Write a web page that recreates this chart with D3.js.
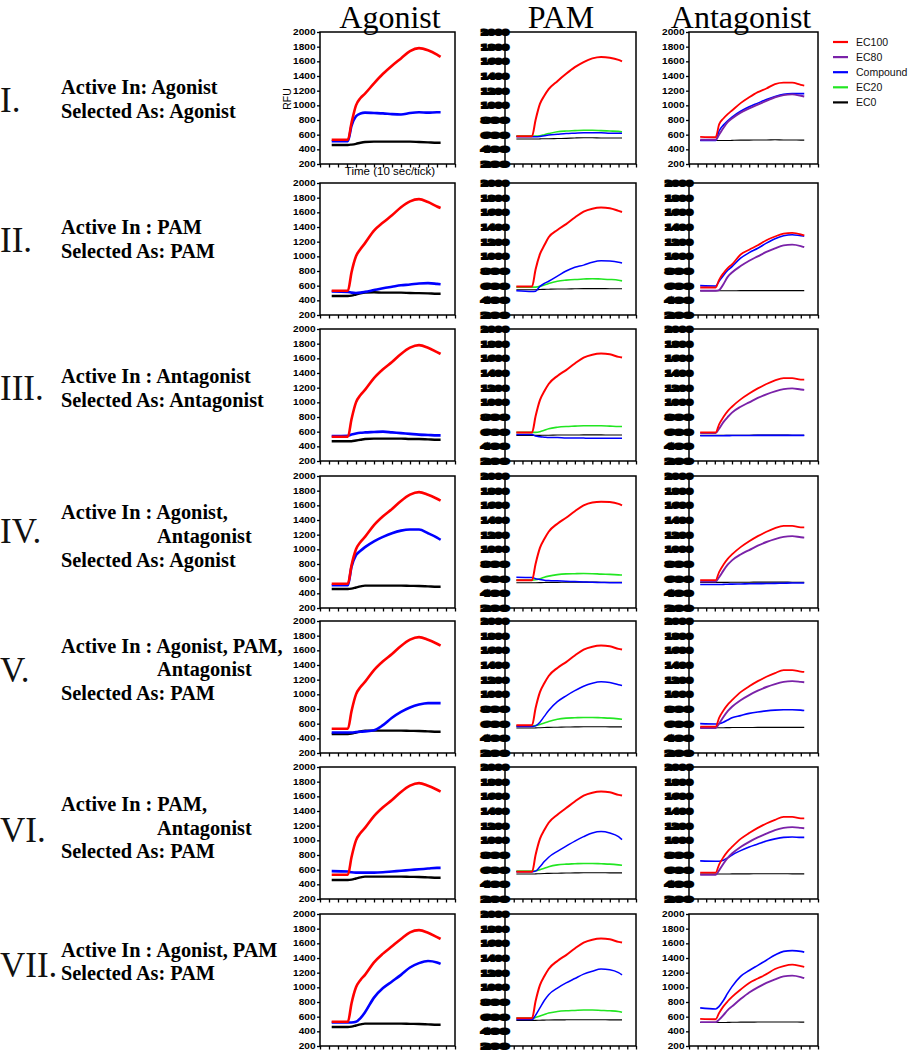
<!DOCTYPE html>
<html><head><meta charset="utf-8">
<script src="https://cdn.jsdelivr.net/npm/d3@7"></script>
<style>body{margin:0;background:#fff}</style>
</head><body><svg id="c" width="909" height="1050"></svg>
<script>
// ---------------- data ----------------
const times = [1.3, 3.1, 3.5, 4, 4.5, 5, 6, 7, 8, 9, 10, 11, 12, 13, 13.4];
const columnTitles = ["Agonist", "PAM", "Antagonist"];
const romanNumerals = ["I.", "II.", "III.", "IV.", "V.", "VI.", "VII."];
const activeInLines = [
  ["Active In: Agonist"],
  ["Active In : PAM"],
  ["Active In : Antagonist"],
  ["Active In : Agonist,", "Antagonist"],
  ["Active In : Agonist, PAM,", "Antagonist"],
  ["Active In : PAM,", "Antagonist"],
  ["Active In : Agonist, PAM"]
];
const selectedAs = ["Selected As: Agonist", "Selected As: PAM", "Selected As: Antagonist",
  "Selected As: Agonist", "Selected As: PAM", "Selected As: PAM", "Selected As: PAM"];
const yTicks = [200, 400, 600, 800, 1000, 1200, 1400, 1600, 1800, 2000];
const xTicks = [0, 1, 2, 3, 4, 5, 6, 7, 8, 9, 10, 11, 12, 13, 14, 15];
const legendLabels = ["EC100", "EC80", "Compound", "EC20", "EC0"];
const yAxisLabel = "RFU";
const xAxisLabel = "Time (10 sec/tick)";

// Agonist mode column
const agonistEC100 = [
  [530,530,760,1000,1100,1160,1300,1430,1540,1640,1740,1780,1750,1690,1660],
  [530,530,780,1000,1100,1180,1350,1460,1560,1670,1750,1780,1740,1680,1660],
  [530,530,770,1000,1100,1170,1330,1450,1550,1660,1745,1780,1745,1685,1660],
  [530,530,780,1000,1100,1170,1330,1450,1550,1660,1745,1780,1745,1690,1665],
  [530,530,770,1000,1100,1170,1330,1450,1550,1660,1745,1780,1745,1690,1665],
  [530,530,770,1000,1100,1170,1330,1450,1550,1660,1745,1780,1745,1690,1665],
  [530,530,780,1000,1100,1170,1340,1460,1560,1660,1750,1780,1745,1685,1660]
];
const agonistCompound = [
  [510,510,720,850,890,900,895,890,880,875,895,905,900,905,905],
  [520,515,505,500,505,515,540,565,585,605,615,630,635,625,620],
  [540,545,560,575,585,590,595,600,590,580,570,560,555,550,550],
  [510,510,760,920,980,1030,1110,1170,1220,1255,1270,1270,1220,1160,1130],
  [480,480,480,485,490,495,510,580,680,760,820,860,880,880,880],
  [580,575,565,560,560,560,560,565,575,585,595,605,615,625,625],
  [520,520,520,530,580,660,860,990,1080,1170,1270,1330,1360,1340,1320]
];
const agonistEC0 = [
  [460,460,465,475,490,500,505,505,505,505,505,500,495,490,490],
  [460,460,465,480,495,505,510,505,505,505,500,498,495,490,490],
  [470,470,470,480,490,500,505,505,505,505,500,500,495,490,490],
  [460,460,465,480,495,505,505,505,505,505,502,500,495,490,490],
  [460,460,465,480,495,505,505,505,505,505,502,500,495,490,490],
  [460,460,465,480,495,505,505,505,505,505,502,500,495,490,490],
  [460,460,465,480,495,505,505,505,505,505,502,500,495,490,490]
];

// PAM mode column
const pamEC100 = [
  [580,580,800,1020,1130,1220,1330,1430,1520,1590,1640,1660,1650,1620,1600],
  [590,590,820,1030,1150,1260,1360,1440,1530,1610,1650,1665,1655,1620,1605],
  [590,590,810,1030,1150,1250,1360,1440,1530,1610,1650,1665,1655,1620,1610],
  [580,580,800,1020,1140,1240,1350,1430,1520,1600,1640,1650,1645,1620,1600],
  [580,580,810,1030,1150,1250,1360,1440,1530,1610,1650,1665,1655,1620,1610],
  [570,570,800,1020,1140,1240,1350,1440,1530,1610,1650,1665,1655,1620,1610],
  [580,580,810,1030,1150,1250,1360,1440,1530,1610,1650,1665,1655,1620,1610]
];
const pamEC20 = [
  [580,580,580,585,600,615,640,650,655,660,660,655,650,645,640],
  [580,580,580,590,610,630,660,675,685,690,695,690,685,675,665],
  [590,590,590,600,620,640,660,670,675,680,680,680,675,670,670],
  [580,580,585,600,620,635,655,665,668,670,668,662,658,652,650],
  [570,570,575,590,610,630,660,675,680,685,685,680,675,665,660],
  [580,580,585,600,620,640,665,675,680,685,685,680,675,665,660],
  [580,580,590,610,630,650,670,680,685,690,690,685,680,670,660]
];
const pamCompound = [
  [570,570,570,575,585,595,605,615,620,625,625,625,620,620,620],
  [530,520,525,590,630,660,730,800,850,880,920,940,935,920,910],
  [560,560,540,530,525,520,520,515,515,512,510,510,510,510,510],
  [620,615,600,590,580,575,570,565,560,555,550,548,545,545,545],
  [560,560,570,620,700,780,900,980,1050,1110,1150,1170,1160,1130,1120],
  [570,570,580,640,710,770,850,920,990,1050,1100,1120,1100,1050,1010],
  [560,560,620,720,820,900,990,1060,1120,1180,1220,1250,1240,1200,1170]
];
const pamEC0 = [
  [540,540,540,542,545,545,548,550,555,558,558,555,555,555,555],
  [545,545,545,548,550,552,555,555,558,560,560,560,558,558,558],
  [550,550,550,550,552,552,555,555,555,556,556,556,555,555,555],
  [545,545,545,546,548,550,550,552,552,553,553,552,552,552,552],
  [540,540,542,545,548,550,552,555,556,558,558,558,556,556,556],
  [540,540,542,545,548,550,552,555,556,558,558,558,556,556,556],
  [550,550,550,552,553,555,556,557,558,558,558,558,556,556,556]
];

// Antagonist mode column
const antEC100 = [
  [570,565,740,820,880,930,1030,1110,1180,1230,1290,1310,1310,1280,1270],
  [575,575,680,770,840,890,1025,1090,1150,1220,1270,1310,1320,1300,1285],
  [590,590,700,800,880,940,1040,1120,1190,1250,1300,1330,1330,1310,1310],
  [580,580,690,790,870,930,1030,1110,1180,1240,1290,1320,1320,1300,1300],
  [560,560,680,780,860,920,1030,1110,1180,1240,1290,1330,1330,1310,1305],
  [560,560,670,770,850,910,1020,1100,1170,1230,1280,1320,1320,1300,1300],
  [570,565,650,740,810,870,970,1060,1120,1180,1250,1290,1310,1290,1280]
];
const antEC80 = [
  [530,530,600,690,770,820,900,960,1010,1060,1110,1140,1150,1130,1120],
  [530,530,540,620,720,780,867,940,1000,1060,1110,1150,1160,1140,1125],
  [580,580,640,730,800,860,940,1000,1060,1110,1150,1180,1190,1175,1170],
  [560,560,620,710,790,850,930,990,1050,1100,1140,1170,1180,1165,1160],
  [540,540,600,690,770,830,920,990,1050,1100,1140,1170,1180,1170,1165],
  [530,530,590,680,760,820,910,980,1040,1090,1140,1170,1180,1170,1165],
  [525,525,560,620,690,740,840,930,1000,1060,1110,1150,1160,1140,1125]
];
const antCompound = [
  [520,520,650,730,790,840,920,980,1030,1080,1120,1150,1160,1160,1160],
  [600,595,660,740,810,860,975,1050,1110,1180,1240,1280,1295,1280,1275],
  [545,545,545,545,546,547,548,548,549,550,550,550,550,550,550],
  [520,520,520,522,524,526,528,530,532,534,536,538,540,540,540],
  [600,595,600,620,650,680,710,740,760,775,785,790,790,785,780],
  [720,715,715,730,760,800,860,910,950,990,1020,1040,1045,1040,1040],
  [720,705,740,820,920,1010,1150,1230,1300,1370,1440,1490,1500,1490,1480]
];
const antEC0 = [
  [520,520,520,520,520,522,525,525,528,528,530,528,528,525,525],
  [530,530,530,530,530,530,532,532,533,533,533,533,532,532,532],
  [550,550,550,550,550,551,552,552,553,553,553,553,552,552,552],
  [550,550,550,550,550,551,552,552,553,553,553,553,552,552,552],
  [545,545,545,545,546,547,548,548,549,550,550,550,549,549,549],
  [540,540,540,540,541,542,543,543,544,544,544,544,543,543,543],
  [520,520,520,520,522,524,525,525,527,528,528,528,527,526,526]
];

// ---------------- layout & style ----------------
const svg = d3.select("#c");
const colX = [[320, 455], [505, 636], [689, 818]];
const rowTop = [32, 183, 329, 476, 621, 767, 914];
const H = 132;
const C = {red: "#ff0000", purple: "#7a22a8", blue: "#0000ff", green: "#22e622", black: "#000000"};

const columns = [
  [ {data: agonistEC0, color: C.black, w: 2.4},
    {data: agonistCompound, color: C.blue, w: 2.6},
    {data: agonistEC100, color: C.red, w: 2.6} ],
  [ {data: pamEC0, color: C.black, w: 1.1},
    {data: pamEC20, color: C.green, w: 1.6},
    {data: pamCompound, color: C.blue, w: 1.5},
    {data: pamEC100, color: C.red, w: 2.0} ],
  [ {data: antEC0, color: C.black, w: 1.1},
    {data: antCompound, color: C.blue, w: 1.6},
    {data: antEC80, color: C.purple, w: 1.9},
    {data: antEC100, color: C.red, w: 1.8} ]
];

// plain tick labels: agonist column all rows; antagonist rows I & VII
function plainLabels(c, r) { return c === 0 || (c === 2 && (r === 0 || r === 6)); }
const fmt = d3.format("d");

for (let r = 0; r < 7; r++) {
  for (let c = 0; c < 3; c++) {
    const [x0, x1] = colX[c];
    const top = rowTop[r], bot = top + H;
    const x = d3.scaleLinear().domain([0, 15]).range([x0, x1]);
    const y = d3.scaleLinear().domain([200, 2000]).range([bot, top]);
    const g = svg.append("g");

    // frame
    g.append("rect").attr("x", x0).attr("y", top).attr("width", x1 - x0).attr("height", H)
      .attr("fill", "none").attr("stroke", "#000").attr("stroke-width", 1.5);

    // x axis ticks
    const xa = g.append("g").attr("transform", `translate(0,${bot})`)
      .call(d3.axisBottom(x).tickValues(xTicks).tickSize(3.5).tickFormat(""));
    xa.select(".domain").remove();
    xa.selectAll("line").attr("stroke-width", 1.3);

    // y axis
    const ya = g.append("g").attr("transform", `translate(${x0},0)`)
      .call(d3.axisLeft(y).tickValues(yTicks).tickSize(3).tickPadding(1.5).tickFormat(fmt));
    ya.select(".domain").remove();
    ya.selectAll("line").attr("stroke-width", 1.3);
    if (plainLabels(c, r)) {
      ya.selectAll("text")
        .attr("font-family", "Liberation Sans, Arial, sans-serif")
        .attr("font-weight", "bold").attr("font-size", 8.2).attr("fill", "#000")
        .attr("textLength", d => fmt(d).length * 5.6)
        .attr("lengthAdjust", "spacingAndGlyphs");
    } else {
      ya.selectAll("text")
        .attr("text-anchor", "start").attr("x", -24)
        .attr("font-family", "DejaVu Sans, sans-serif")
        .attr("font-weight", "900").attr("font-size", 7.5).attr("fill", "#000")
        .attr("stroke", "#000").attr("stroke-width", 2)
        .attr("textLength", 28).attr("lengthAdjust", "spacingAndGlyphs");
    }

    // lines
    const line = d3.line().x((d, i) => x(times[i])).y(d => y(d)).curve(d3.curveMonotoneX);
    columns[c].forEach(s => {
      g.append("path").datum(s.data[r]).attr("d", line)
        .attr("fill", "none").attr("stroke", s.color).attr("stroke-width", s.w)
        .attr("stroke-linejoin", "round");
    });
  }
}

// axis titles (first agonist panel)
svg.append("text").attr("transform", "translate(291,99) rotate(-90)")
  .attr("text-anchor", "middle").attr("font-family", "Liberation Sans, Arial, sans-serif")
  .attr("font-size", 10.5).text(yAxisLabel);
svg.append("text").attr("x", 390).attr("y", 175).attr("text-anchor", "middle")
  .attr("font-family", "Liberation Sans, Arial, sans-serif").attr("font-size", 11.5)
  .text(xAxisLabel);

// column titles
const titleX = [390, 561, 741];
columnTitles.forEach((t, i) => {
  svg.append("text").attr("x", titleX[i]).attr("y", 28).attr("text-anchor", "middle")
    .attr("font-family", "Liberation Serif, Times New Roman, serif").attr("font-size", 32)
    .text(t);
});

// legend
const legendColors = [C.red, C.purple, C.blue, C.green, C.black];
legendLabels.forEach((l, i) => {
  const yy = 42 + i * 15.1;
  svg.append("line").attr("x1", 833).attr("x2", 848).attr("y1", yy).attr("y2", yy)
    .attr("stroke", legendColors[i]).attr("stroke-width", 2.2);
  svg.append("text").attr("x", 856).attr("y", yy + 3.8)
    .attr("font-family", "Liberation Sans, Arial, sans-serif").attr("font-size", 10.5)
    .attr("fill", "#111").text(l);
});

// row labels
const rowLabelLayout = [
  {num: 112, lines: [94, 118]},
  {num: 252, lines: [234, 258]},
  {num: 400, lines: [383, 407]},
  {num: 543, lines: [519, 543, 567]},
  {num: 682, lines: [653, 676, 700]},
  {num: 842, lines: [811, 835, 858]},
  {num: 977, lines: [957, 980]}
];
rowLabelLayout.forEach((L, r) => {
  svg.append("text").attr("x", 0).attr("y", L.num)
    .attr("font-family", "Liberation Serif, Times New Roman, serif").attr("font-size", 35)
    .attr("fill", "#111").text(romanNumerals[r]);
  const texts = activeInLines[r].concat([selectedAs[r]]);
  texts.forEach((t, k) => {
    const cont = activeInLines[r].length > 1 && k === 1;
    svg.append("text").attr("x", cont ? 157 : 61).attr("y", L.lines[k])
      .attr("font-family", "Liberation Serif, Times New Roman, serif")
      .attr("font-weight", "bold").attr("font-size", 20.3).attr("fill", "#000").text(t);
  });
});
</script>
</body></html>
